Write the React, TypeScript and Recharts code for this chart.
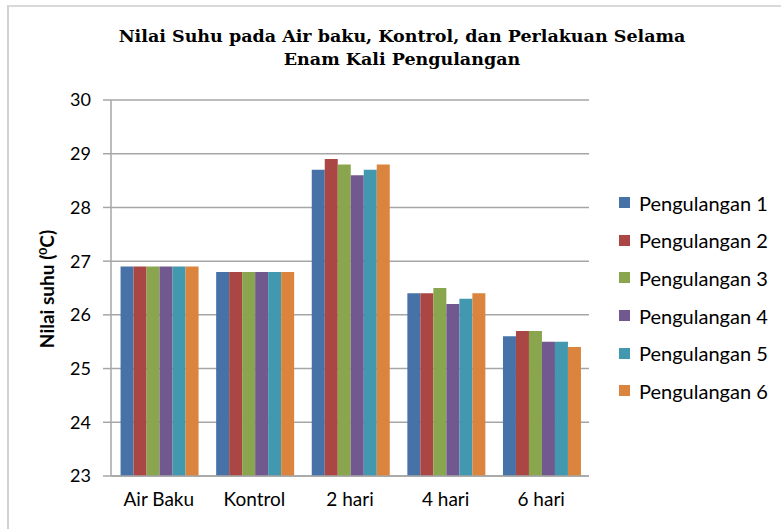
import { BarChart, Bar, XAxis, YAxis, CartesianGrid } from "recharts";

const categories = ["Air Baku", "Kontrol", "2 hari", "4 hari", "6 hari"];
const seriesNames = [
  "Pengulangan 1",
  "Pengulangan 2",
  "Pengulangan 3",
  "Pengulangan 4",
  "Pengulangan 5",
  "Pengulangan 6",
];
const p1 = [26.9, 26.8, 28.7, 26.4, 25.6];
const p2 = [26.9, 26.8, 28.9, 26.4, 25.7];
const p3 = [26.9, 26.8, 28.8, 26.5, 25.7];
const p4 = [26.9, 26.8, 28.6, 26.2, 25.5];
const p5 = [26.9, 26.8, 28.7, 26.3, 25.5];
const p6 = [26.9, 26.8, 28.8, 26.4, 25.4];
const yTicks = [23, 24, 25, 26, 27, 28, 29, 30];

const colors = ["#4672a8", "#aa4643", "#89a54e", "#71588f", "#4198af", "#db843d"];
const allSeries = [p1, p2, p3, p4, p5, p6];

const data = categories.map((c, i) => {
  const row: Record<string, string | number> = { name: c };
  allSeries.forEach((s, k) => {
    row[seriesNames[k]] = s[i];
  });
  return row;
});

const SANS = "Lato, 'Open Sans', sans-serif";

// legend drawn as a plain list, same order as the series
const LegendList = () => (
  <div
    style={{
      position: "absolute",
      left: 619,
      top: 184,
      fontFamily: SANS,
      fontSize: 20,
      color: "#000",
    }}
  >
    {seriesNames.map((n, i) => (
      <div
        key={n}
        style={{ display: "flex", alignItems: "center", height: 37.6 }}
      >
        <div
          style={{
            width: 11,
            height: 11,
            backgroundColor: colors[i],
            marginRight: 9,
          }}
        />
        <span>{n}</span>
      </div>
    ))}
  </div>
);

const YLabel = () => (
  <text
    transform="translate(54, 289) rotate(-90)"
    textAnchor="middle"
    fontFamily={SANS}
    fontWeight="bold"
    fontSize={19}
    fill="#000"
  >
    Nilai suhu (<tspan baselineShift="super" fontSize={12}>0</tspan>C)
  </text>
);

export default function App() {
  return (
    <div
      style={{
        position: "absolute",
        left: 0,
        top: 0,
        width: 781,
        height: 529,
        background: "#fff",
      }}
    >
      <div
        style={{
          position: "absolute",
          left: 7,
          top: 5,
          width: 790,
          height: 522,
          borderLeft: "2px solid #d0d0d0",
          borderTop: "2px solid #d9d9d9",
          borderBottom: "1px solid #eeeeee",
        }}
      />
      <div
        style={{
          position: "absolute",
          left: 0,
          top: 25,
          width: 804,
          textAlign: "center",
          fontFamily: "'DejaVu Serif', serif",
          fontWeight: "bold",
          fontSize: 17.5,
          lineHeight: "23px",
          color: "#000",
        }}
      >
        Nilai Suhu pada Air baku, Kontrol, dan Perlakuan Selama
        <br />
        Enam Kali Pengulangan
      </div>
      <BarChart
        width={781}
        height={529}
        data={data}
        margin={{ top: 100, right: 192, bottom: 0, left: 0 }}
        barCategoryGap="10%"
        barGap={0}
        style={{ position: "absolute", left: 0, top: 0 }}
      >
        <CartesianGrid
          vertical={false}
          stroke="#a6a6a6"
          strokeWidth={1.5}
        />
        <XAxis
          dataKey="name"
          height={53}
          tickLine={false}
          tickSize={0}
          tickMargin={17}
          axisLine={{ stroke: "#a6a6a6", strokeWidth: 1.5 }}
          tick={{ fontFamily: SANS, fontSize: 19, fill: "#000" }}
        />
        <YAxis
          width={111}
          domain={[23, 30]}
          ticks={yTicks}
          interval={0}
          tickSize={8}
          tickMargin={12}
          axisLine={{ stroke: "#a6a6a6", strokeWidth: 1.5 }}
          tickLine={{ stroke: "#a6a6a6", strokeWidth: 1.5 }}
          tick={{ fontFamily: SANS, fontSize: 18, fill: "#000" }}
          allowDataOverflow
        />
        {seriesNames.map((n, i) => (
          <Bar
            key={n}
            dataKey={n}
            fill={colors[i]}
            isAnimationActive={false}
          />
        ))}
        <YLabel />
      </BarChart>
      <LegendList />
    </div>
  );
}
